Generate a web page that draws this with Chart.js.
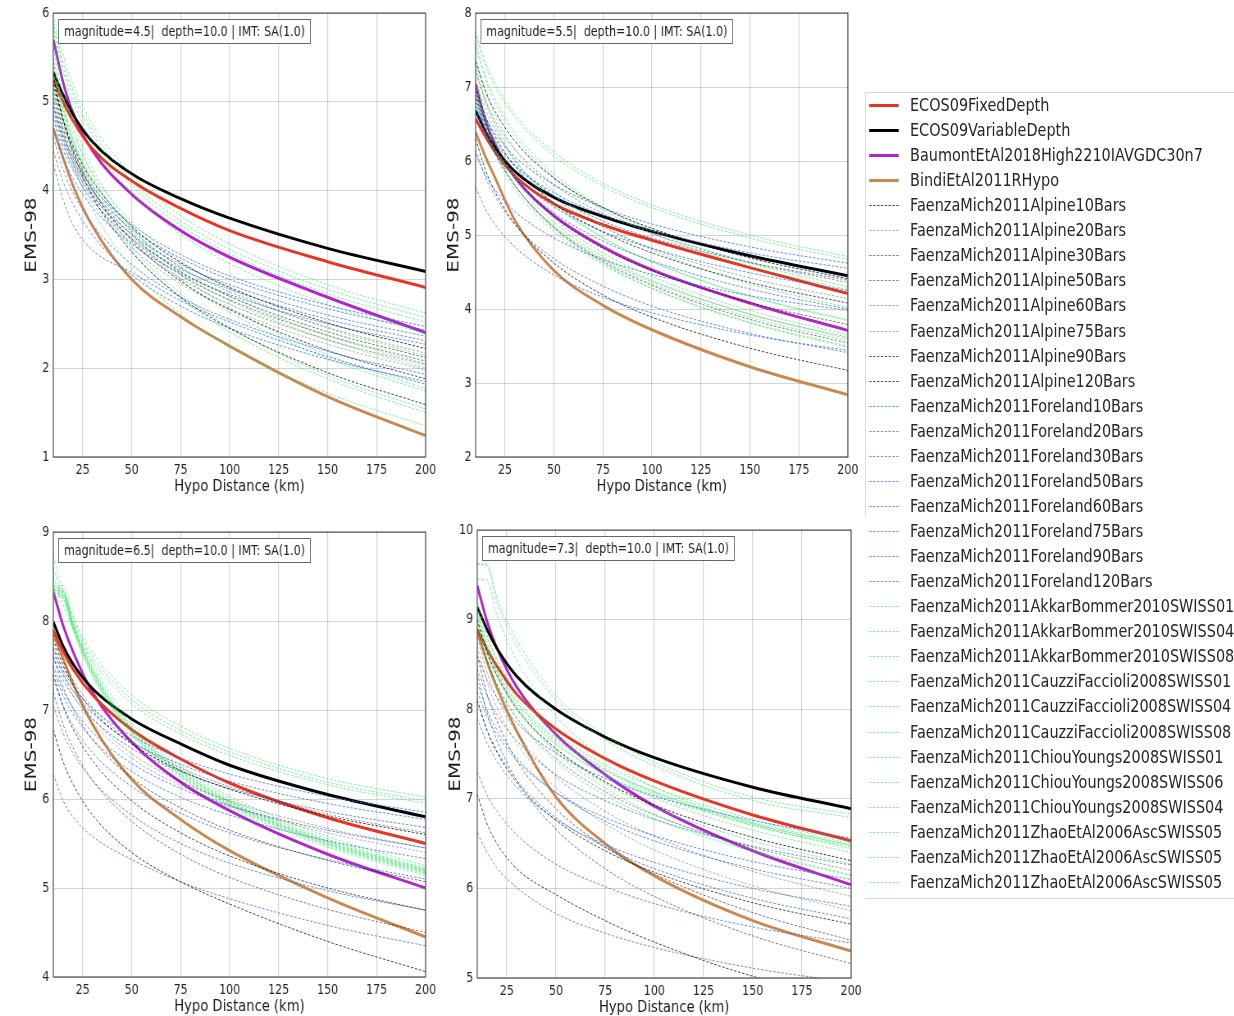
<!DOCTYPE html>
<html>
<head>
<meta charset="utf-8">
<script src="https://cdn.jsdelivr.net/npm/chart.js"></script>
<style>
  body { margin: 0; background: #fff; width: 1234px; height: 1016px; overflow: hidden; }
  #stage { position: absolute; left: 0; top: 0; width: 1505px; height: 1016px; overflow: hidden;
           transform: scaleX(0.82); transform-origin: 0 0; font-family: "DejaVu Sans", sans-serif; }
  #stage canvas { position: absolute; }
  .lg-text { position: absolute; font-size: 17.6px; line-height: 20px; color: #262626; white-space: nowrap; }
  .lg-line { position: absolute; height: 0; }
</style>
</head>
<body>
<div id="stage"></div>
<script>
// ---- data ----
const distances = [10, 15, 20, 30, 50, 75, 100, 150, 200];
const xTicks = [25, 50, 75, 100, 125, 150, 175, 200];
const magnitudes = [4.5, 5.5, 6.5, 7.3];
const yMins = [1, 2, 4, 5];
const yMaxs = [6, 8, 9, 10];

const mainNames = ['ECOS09FixedDepth', 'ECOS09VariableDepth', 'BaumontEtAl2018High2210IAVGDC30n7', 'BindiEtAl2011RHypo'];
const alpineNames = ['FaenzaMich2011Alpine10Bars', 'FaenzaMich2011Alpine20Bars', 'FaenzaMich2011Alpine30Bars', 'FaenzaMich2011Alpine50Bars',
  'FaenzaMich2011Alpine60Bars', 'FaenzaMich2011Alpine75Bars', 'FaenzaMich2011Alpine90Bars', 'FaenzaMich2011Alpine120Bars'];
const forelandNames = ['FaenzaMich2011Foreland10Bars', 'FaenzaMich2011Foreland20Bars', 'FaenzaMich2011Foreland30Bars', 'FaenzaMich2011Foreland50Bars',
  'FaenzaMich2011Foreland60Bars', 'FaenzaMich2011Foreland75Bars', 'FaenzaMich2011Foreland90Bars', 'FaenzaMich2011Foreland120Bars'];
const greenNames = ['FaenzaMich2011AkkarBommer2010SWISS01', 'FaenzaMich2011AkkarBommer2010SWISS04', 'FaenzaMich2011AkkarBommer2010SWISS08',
  'FaenzaMich2011CauzziFaccioli2008SWISS01', 'FaenzaMich2011CauzziFaccioli2008SWISS04', 'FaenzaMich2011CauzziFaccioli2008SWISS08',
  'FaenzaMich2011ChiouYoungs2008SWISS01', 'FaenzaMich2011ChiouYoungs2008SWISS06', 'FaenzaMich2011ChiouYoungs2008SWISS04',
  'FaenzaMich2011ZhaoEtAl2006AscSWISS05', 'FaenzaMich2011ZhaoEtAl2006AscSWISS05', 'FaenzaMich2011ZhaoEtAl2006AscSWISS05'];

// magnitude 4.5
const m45Main = [
  [5.25, 5.00, 4.79, 4.47, 4.11, 3.80, 3.55, 3.20, 2.91],
  [5.33, 5.08, 4.86, 4.55, 4.19, 3.91, 3.69, 3.35, 3.09],
  [5.70, 5.22, 4.88, 4.45, 3.96, 3.55, 3.25, 2.80, 2.40],
  [4.70, 4.37, 4.06, 3.60, 3.00, 2.58, 2.25, 1.68, 1.24]
];
const m45Alpine = [
  [5.20, 4.80, 4.51, 4.11, 3.60, 3.19, 2.91, 2.51, 2.22],
  [5.15, 4.75, 4.46, 4.06, 3.55, 3.14, 2.86, 2.46, 2.17],
  [5.10, 4.70, 4.41, 4.01, 3.50, 3.09, 2.81, 2.41, 2.12],
  [5.05, 4.65, 4.36, 3.96, 3.46, 3.05, 2.77, 2.37, 2.08],
  [5.00, 4.60, 4.32, 3.91, 3.41, 3.01, 2.72, 2.32, 2.04],
  [4.95, 4.55, 4.26, 3.86, 3.36, 2.95, 2.67, 2.27, 1.98],
  [5.25, 4.80, 4.47, 4.01, 3.44, 2.98, 2.66, 2.20, 1.88],
  [5.30, 4.80, 4.44, 3.94, 3.31, 2.80, 2.45, 1.95, 1.59]
];
const m45Foreland = [
  [4.95, 4.62, 4.38, 4.04, 3.62, 3.28, 3.04, 2.71, 2.47],
  [4.90, 4.57, 4.33, 3.99, 3.57, 3.24, 3.00, 2.67, 2.43],
  [4.85, 4.51, 4.28, 3.94, 3.51, 3.17, 2.94, 2.60, 2.36],
  [4.80, 4.46, 4.23, 3.89, 3.46, 3.12, 2.89, 2.55, 2.31],
  [4.70, 4.37, 4.14, 3.81, 3.40, 3.07, 2.83, 2.50, 2.27],
  [4.60, 4.24, 3.98, 3.62, 3.17, 2.80, 2.55, 2.19, 1.93],
  [4.45, 4.10, 3.85, 3.50, 3.05, 2.70, 2.45, 2.10, 1.85],
  [4.30, 3.90, 3.62, 3.33, 3.08, 2.76, 2.52, 2.13, 1.82]
];
const m45Green = [
  [5.98, 5.53, 5.20, 4.75, 4.18, 3.72, 3.40, 2.94, 2.62],
  [5.90, 5.45, 5.13, 4.68, 4.11, 3.66, 3.34, 2.89, 2.57],
  [5.80, 5.34, 5.01, 4.55, 3.97, 3.51, 3.18, 2.72, 2.39],
  [5.40, 4.96, 4.65, 4.20, 3.65, 3.21, 2.89, 2.45, 2.14],
  [5.30, 4.85, 4.54, 4.09, 3.53, 3.08, 2.76, 2.32, 2.00],
  [5.70, 5.17, 4.79, 4.26, 3.59, 3.06, 2.68, 2.15, 1.77],
  [5.60, 5.08, 4.71, 4.18, 3.53, 3.00, 2.63, 2.11, 1.74],
  [5.50, 4.97, 4.59, 4.05, 3.37, 2.84, 2.46, 1.92, 1.54],
  [5.45, 4.92, 4.54, 4.00, 3.33, 2.79, 2.41, 1.88, 1.50],
  [5.20, 4.68, 4.31, 3.79, 3.13, 2.61, 2.24, 1.72, 1.35],
  [5.85, 5.40, 5.08, 4.63, 4.06, 3.61, 3.29, 2.84, 2.52],
  [5.35, 4.90, 4.58, 4.13, 3.58, 3.13, 2.81, 2.37, 2.05]
];

// magnitude 5.5
const m55Main = [
  [6.57, 6.33, 6.12, 5.80, 5.42, 5.14, 4.93, 4.56, 4.21],
  [6.68, 6.40, 6.18, 5.86, 5.51, 5.25, 5.05, 4.72, 4.45],
  [7.04, 6.55, 6.22, 5.78, 5.26, 4.84, 4.53, 4.08, 3.71],
  [6.39, 6.06, 5.77, 5.20, 4.52, 4.05, 3.72, 3.22, 2.84]
];
const m55Alpine = [
  [7.35, 6.95, 6.67, 6.27, 5.77, 5.37, 5.09, 4.69, 4.41],
  [7.10, 6.70, 6.42, 6.01, 5.51, 5.11, 4.82, 4.42, 4.14],
  [6.95, 6.52, 6.22, 5.79, 5.25, 4.82, 4.52, 4.09, 3.79],
  [6.90, 6.45, 6.12, 5.67, 5.10, 4.64, 4.32, 3.86, 3.54],
  [7.20, 6.82, 6.54, 6.16, 5.68, 5.29, 5.02, 4.63, 4.36],
  [6.85, 6.41, 6.10, 5.67, 5.12, 4.68, 4.37, 3.93, 3.62],
  [7.00, 6.61, 6.33, 5.93, 5.43, 5.04, 4.76, 4.36, 4.08],
  [6.30, 5.88, 5.58, 5.15, 4.62, 4.19, 3.89, 3.47, 3.17]
];
const m55Foreland = [
  [6.90, 6.59, 6.37, 6.06, 5.68, 5.37, 5.15, 4.84, 4.62],
  [6.85, 6.52, 6.28, 5.95, 5.53, 5.19, 4.96, 4.63, 4.39],
  [6.80, 6.42, 6.15, 5.77, 5.30, 4.92, 4.65, 4.27, 4.00],
  [6.15, 5.78, 5.52, 5.14, 4.68, 4.31, 4.04, 3.67, 3.41],
  [6.75, 6.45, 6.24, 5.94, 5.57, 5.27, 5.06, 4.76, 4.55],
  [6.70, 6.37, 6.13, 5.80, 5.38, 5.05, 4.82, 4.49, 4.25],
  [6.10, 5.81, 5.61, 5.32, 4.96, 4.67, 4.47, 4.18, 3.98],
  [5.65, 5.35, 5.14, 4.84, 4.46, 4.16, 3.95, 3.65, 3.44]
];
const m55Green = [
  [7.75, 7.34, 7.05, 6.63, 6.12, 5.70, 5.41, 5.00, 4.71],
  [7.70, 7.29, 7.00, 6.59, 6.07, 5.66, 5.37, 4.96, 4.67],
  [7.60, 7.15, 6.84, 6.39, 5.83, 5.38, 5.06, 4.62, 4.30],
  [7.55, 7.11, 6.79, 6.34, 5.78, 5.34, 5.02, 4.58, 4.26],
  [7.30, 6.83, 6.50, 6.03, 5.44, 4.97, 4.64, 4.17, 3.84],
  [7.00, 6.54, 6.22, 5.75, 5.17, 4.71, 4.39, 3.93, 3.60],
  [6.95, 6.48, 6.15, 5.68, 5.09, 4.62, 4.28, 3.81, 3.48],
  [7.05, 6.59, 6.27, 5.80, 5.22, 4.76, 4.44, 3.98, 3.65],
  [6.90, 6.45, 6.13, 5.68, 5.11, 4.66, 4.34, 3.89, 3.57],
  [7.25, 6.79, 6.47, 6.00, 5.42, 4.96, 4.64, 4.18, 3.85],
  [7.40, 6.95, 6.62, 6.16, 5.59, 5.13, 4.80, 4.34, 4.02],
  [6.85, 6.40, 6.08, 5.62, 5.05, 4.60, 4.28, 3.82, 3.50]
];

// magnitude 6.5
const m65Main = [
  [7.90, 7.66, 7.46, 7.17, 6.78, 6.45, 6.18, 5.79, 5.50],
  [7.99, 7.72, 7.52, 7.24, 6.90, 6.62, 6.38, 6.05, 5.80],
  [8.33, 7.95, 7.66, 7.20, 6.64, 6.19, 5.87, 5.38, 5.00],
  [7.87, 7.58, 7.30, 6.84, 6.22, 5.77, 5.42, 4.89, 4.45]
];
const m65Alpine = [
  [7.80, 7.50, 7.29, 6.99, 6.62, 6.32, 6.11, 5.81, 5.60],
  [7.75, 7.44, 7.22, 6.91, 6.51, 6.20, 5.98, 5.67, 5.45],
  [7.60, 7.26, 7.02, 6.67, 6.24, 5.90, 5.65, 5.31, 5.07],
  [7.20, 6.84, 6.58, 6.21, 5.75, 5.38, 5.12, 4.76, 4.50],
  [7.85, 7.55, 7.34, 7.03, 6.65, 6.35, 6.14, 5.83, 5.62],
  [7.70, 7.39, 7.17, 6.86, 6.46, 6.15, 5.93, 5.62, 5.40],
  [7.40, 7.04, 6.79, 6.43, 5.98, 5.62, 5.36, 5.00, 4.75],
  [6.78, 6.42, 6.17, 5.82, 5.40, 5.07, 4.82, 4.40, 4.06]
];
const m65Foreland = [
  [7.70, 7.45, 7.27, 7.02, 6.71, 6.46, 6.28, 6.03, 5.85],
  [7.65, 7.40, 7.22, 6.96, 6.64, 6.39, 6.20, 5.95, 5.77],
  [7.60, 7.34, 7.16, 6.90, 6.57, 6.31, 6.12, 5.86, 5.68],
  [7.50, 7.22, 7.03, 6.75, 6.40, 6.12, 5.92, 5.65, 5.45],
  [7.45, 7.16, 6.96, 6.67, 6.31, 6.02, 5.82, 5.53, 5.33],
  [7.35, 7.05, 6.83, 6.52, 6.14, 5.84, 5.62, 5.32, 5.10],
  [7.05, 6.74, 6.52, 6.21, 5.82, 5.50, 5.28, 4.97, 4.75],
  [6.28, 5.98, 5.80, 5.58, 5.32, 5.07, 4.88, 4.58, 4.35]
];
const m65Green = [
  [8.73, 8.33, 8.05, 7.65, 7.17, 6.82, 6.57, 6.23, 6.02],
  [8.60, 8.25, 7.98, 7.60, 7.12, 6.77, 6.53, 6.19, 5.98],
  [8.50, 8.18, 7.92, 7.55, 7.07, 6.73, 6.49, 6.16, 5.95],
  [8.38, 8.36, 8.00, 7.48, 6.82, 6.34, 6.00, 5.55, 5.22],
  [8.35, 8.33, 7.97, 7.45, 6.79, 6.31, 5.97, 5.52, 5.20],
  [8.32, 8.30, 7.94, 7.42, 6.76, 6.28, 5.95, 5.50, 5.18],
  [8.30, 8.28, 7.92, 7.40, 6.74, 6.26, 5.93, 5.48, 5.16],
  [8.28, 8.26, 7.90, 7.38, 6.72, 6.24, 5.91, 5.46, 5.14],
  [8.40, 8.40, 8.06, 7.53, 6.86, 6.37, 6.03, 5.58, 5.25],
  [8.34, 8.32, 7.96, 7.44, 6.78, 6.30, 5.96, 5.51, 5.19],
  [8.36, 8.34, 7.98, 7.46, 6.80, 6.32, 5.98, 5.53, 5.21],
  [8.31, 8.29, 7.93, 7.41, 6.75, 6.27, 5.94, 5.49, 5.17]
];

// magnitude 7.3
const m73Main = [
  [8.89, 8.67, 8.48, 8.17, 7.78, 7.45, 7.20, 6.82, 6.53],
  [9.14, 8.89, 8.68, 8.37, 8.00, 7.69, 7.46, 7.13, 6.89],
  [9.38, 8.98, 8.68, 8.25, 7.72, 7.27, 6.92, 6.42, 6.04],
  [8.86, 8.53, 8.24, 7.76, 7.02, 6.50, 6.14, 5.64, 5.30]
];
const m73Alpine = [
  [9.00, 8.64, 8.38, 8.01, 7.56, 7.19, 6.93, 6.57, 6.31],
  [8.80, 8.41, 8.13, 7.74, 7.25, 6.86, 6.58, 6.19, 5.91],
  [8.60, 8.17, 7.87, 7.43, 6.89, 6.46, 6.16, 5.73, 5.42],
  [8.40, 7.96, 7.65, 7.21, 6.66, 6.22, 5.91, 5.47, 5.16],
  [8.90, 8.54, 8.28, 7.91, 7.45, 7.08, 6.82, 6.46, 6.20],
  [8.70, 8.30, 8.02, 7.62, 7.12, 6.72, 6.43, 6.03, 5.75],
  [8.10, 7.76, 7.52, 7.18, 6.76, 6.42, 6.18, 5.84, 5.60],
  [7.05, 6.72, 6.50, 6.22, 5.93, 5.64, 5.40, 5.02, 4.78]
];
const m73Foreland = [
  [8.60, 8.33, 8.13, 7.85, 7.51, 7.23, 7.03, 6.76, 6.56],
  [8.45, 8.15, 7.94, 7.65, 7.27, 6.98, 6.77, 6.47, 6.26],
  [8.30, 7.99, 7.77, 7.46, 7.07, 6.75, 6.53, 6.22, 6.00],
  [8.10, 7.77, 7.54, 7.21, 6.79, 6.46, 6.22, 5.89, 5.66],
  [7.90, 7.62, 7.42, 7.13, 6.77, 6.49, 6.29, 6.00, 5.80],
  [8.20, 7.92, 7.72, 7.43, 7.07, 6.79, 6.59, 6.30, 6.10],
  [7.30, 7.04, 6.86, 6.60, 6.27, 6.02, 5.83, 5.57, 5.39],
  [6.62, 6.40, 6.23, 6.01, 5.72, 5.50, 5.34, 5.11, 4.95]
];
const m73Green = [
  [9.62, 9.62, 9.25, 8.78, 8.15, 7.71, 7.41, 7.02, 6.83],
  [9.62, 9.60, 9.20, 8.72, 8.10, 7.66, 7.37, 6.98, 6.79],
  [9.45, 9.44, 9.05, 8.55, 7.92, 7.45, 7.13, 6.73, 6.48],
  [9.20, 8.83, 8.56, 8.19, 7.72, 7.34, 7.08, 6.71, 6.44],
  [9.10, 8.70, 8.42, 8.02, 7.52, 7.12, 6.83, 6.43, 6.15],
  [9.00, 8.66, 8.42, 8.08, 7.66, 7.32, 7.08, 6.74, 6.50],
  [8.95, 8.61, 8.38, 8.04, 7.61, 7.27, 7.04, 6.70, 6.46],
  [9.05, 8.69, 8.44, 8.08, 7.63, 7.27, 7.01, 6.65, 6.40],
  [8.90, 8.53, 8.26, 7.89, 7.42, 7.04, 6.78, 6.41, 6.14],
  [9.15, 8.80, 8.54, 8.19, 7.74, 7.38, 7.13, 6.77, 6.52],
  [9.08, 8.74, 8.48, 8.12, 7.68, 7.32, 7.06, 6.72, 6.48],
  [8.98, 8.62, 8.36, 7.99, 7.54, 7.17, 6.90, 6.53, 6.27]
];

// ---- styles ----
const SQ = 0.82; // the reference is squeezed horizontally
const ux = x => x / SQ;
const mainColors = ['#e63323', '#000000', '#b026c9', '#c9884f'];
const alpineAlpha = [0.8, 0.35, 0.55, 0.5, 0.4, 0.3, 0.7, 0.75];
const forelandColor = 'rgba(55, 115, 220, 0.8)';
const greenColor = 'rgba(45, 225, 95, 0.6)';
const alpineColor = a => `rgba(0, 0, 0, ${a})`;

// plot areas in screen pixels
const panels = [
  { l: 53, r: 425, t: 12, b: 457, main: m45Main, alpine: m45Alpine, foreland: m45Foreland, green: m45Green },
  { l: 476, r: 848, t: 12, b: 457, main: m55Main, alpine: m55Alpine, foreland: m55Foreland, green: m55Green },
  { l: 53, r: 425, t: 531, b: 977, main: m65Main, alpine: m65Alpine, foreland: m65Foreland, green: m65Green },
  { l: 477, r: 851, t: 529, b: 978, main: m73Main, alpine: m73Alpine, foreland: m73Foreland, green: m73Green }
];

Chart.defaults.font.family = '"DejaVu Sans", sans-serif';
Chart.defaults.color = '#262626';

const toXY = vals => vals.map((v, i) => ({ x: distances[i], y: v }));

function makeSets(p) {
  const sets = [];
  p.main.forEach((vals, i) => sets.push({
    label: mainNames[i], data: toXY(vals), borderColor: mainColors[i], borderWidth: 3, order: 1
  }));
  p.alpine.forEach((vals, i) => sets.push({
    label: alpineNames[i], data: toXY(vals), borderColor: alpineColor(alpineAlpha[i]), borderWidth: 1, borderDash: [3, 2], order: 0
  }));
  p.foreland.forEach((vals, i) => sets.push({
    label: forelandNames[i], data: toXY(vals), borderColor: forelandColor, borderWidth: 1, borderDash: [3, 2], order: 0
  }));
  p.green.forEach((vals, i) => sets.push({
    label: greenNames[i], data: toXY(vals), borderColor: greenColor, borderWidth: 1, borderDash: [3, 2], order: 0
  }));
  return sets;
}

const panelDeco = {
  id: 'panelDeco',
  afterDraw(chart, args, opts) {
    const { ctx, chartArea: a } = chart;
    ctx.save();
    ctx.strokeStyle = '#4d4d4d';
    ctx.lineWidth = 1.2;
    ctx.strokeRect(a.left, a.top, a.right - a.left, a.bottom - a.top);
    ctx.font = '13.5px "DejaVu Sans"';
    const w = ctx.measureText(opts.text).width;
    const bx = Math.round(a.left + 6) + 0.5, by = Math.round(a.top + 6) + 0.5;
    ctx.fillStyle = '#fff';
    ctx.fillRect(bx, by, w + 13, 24);
    ctx.strokeStyle = '#666';
    ctx.lineWidth = 1;
    ctx.strokeRect(bx, by, w + 13, 24);
    ctx.fillStyle = '#222';
    ctx.textBaseline = 'middle';
    ctx.fillText(opts.text, bx + 6.5, by + 12.5);
    ctx.restore();
  }
};

const AXW = 70, AXH = 50, PADT = 12, PADR = 20;
const stage = document.getElementById('stage');

panels.forEach((p, k) => {
  const cv = document.createElement('canvas');
  const w = Math.round(ux(p.r) - ux(p.l) + AXW + PADR);
  const h = p.b - p.t + PADT + AXH;
  cv.width = w;
  cv.height = h;
  cv.style.left = (ux(p.l) - AXW) + 'px';
  cv.style.top = (p.t - PADT) + 'px';
  stage.appendChild(cv);

  new Chart(cv.getContext('2d'), {
    type: 'line',
    data: { datasets: makeSets(p) },
    options: {
      responsive: false,
      animation: false,
      devicePixelRatio: 1,
      layout: { padding: { top: PADT, right: PADR, left: 0, bottom: 0 } },
      elements: {
        point: { radius: 0 },
        line: { cubicInterpolationMode: 'monotone', fill: false }
      },
      plugins: {
        legend: { display: false },
        tooltip: { enabled: false },
        panelDeco: { text: `magnitude=${magnitudes[k]}|  depth=10.0 | IMT: SA(1.0)` }
      },
      scales: {
        x: {
          type: 'linear',
          min: 10,
          max: 200,
          afterBuildTicks: s => { s.ticks = xTicks.map(v => ({ value: v })); },
          afterFit: s => { s.height = AXH; },
          grid: { color: 'rgba(0,0,0,0.17)', lineWidth: 1.2, drawTicks: false },
          border: { display: false },
          ticks: { font: { size: 13.5 }, padding: 5, maxRotation: 0 },
          title: { display: true, text: 'Hypo Distance (km)', font: { size: 16 }, color: '#1a1a1a', padding: { top: 0, bottom: 11 } }
        },
        y: {
          min: yMins[k],
          max: yMaxs[k],
          afterFit: s => { s.width = AXW; },
          grid: { color: 'rgba(0,0,0,0.17)', lineWidth: 1, drawTicks: false },
          border: { display: false },
          ticks: { stepSize: 1, font: { size: 13.5 }, padding: 5 },
          title: { display: true, text: 'EMS-98', font: { size: 20 }, color: '#1a1a1a', padding: { top: 32, bottom: 0 } }
        }
      }
    },
    plugins: [panelDeco]
  });
});

// ---- legend ----
const legendItems = [];
mainNames.forEach((n, i) => legendItems.push({ name: n, css: `border-top: 3px solid ${mainColors[i]}; margin-top: -1.5px;` }));
alpineNames.forEach((n, i) => legendItems.push({ name: n, css: `border-top: 1px dashed ${alpineColor(alpineAlpha[i])};` }));
forelandNames.forEach(n => legendItems.push({ name: n, css: `border-top: 1px dashed ${forelandColor};` }));
greenNames.forEach(n => legendItems.push({ name: n, css: `border-top: 1px dashed ${greenColor};` }));

const frame = document.createElement('div');
frame.style.cssText = `position:absolute; left:${ux(865)}px; top:92px; width:600px; height:805px;
  border-top:1px solid #d6d6d6; border-bottom:1px solid #d6d6d6;`;
stage.appendChild(frame);
const frameLeft = document.createElement('div');
frameLeft.style.cssText = `position:absolute; left:${ux(865)}px; top:92px; width:0; height:425px; border-left:1px solid #d6d6d6;`;
stage.appendChild(frameLeft);

legendItems.forEach((it, i) => {
  const cy = 105 + i * 25.06;
  const line = document.createElement('div');
  line.className = 'lg-line';
  line.style.cssText += `left:${ux(869)}px; width:${ux(899) - ux(869)}px; top:${cy}px; ${it.css}`;
  stage.appendChild(line);
  const txt = document.createElement('div');
  txt.className = 'lg-text';
  txt.style.left = ux(910) + 'px';
  txt.style.top = (cy - 10) + 'px';
  txt.textContent = it.name;
  stage.appendChild(txt);
});
</script>
</body>
</html>
